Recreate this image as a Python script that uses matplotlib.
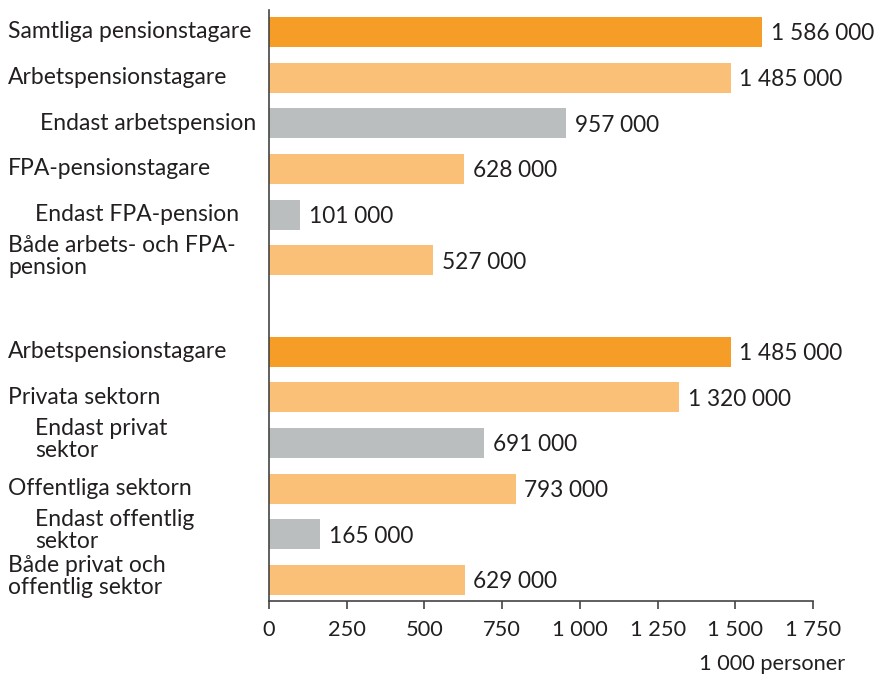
import matplotlib
matplotlib.use("Agg")
import matplotlib.pyplot as plt
import matplotlib.transforms as mtransforms

labels = [
    "Samtliga pensionstagare",
    "Arbetspensionstagare",
    "Endast arbetspension",
    "FPA-pensionstagare",
    "Endast FPA-pension",
    "Både arbets- och FPA-\npension",
    "Arbetspensionstagare",
    "Privata sektorn",
    "Endast privat\nsektor",
    "Offentliga sektorn",
    "Endast offentlig\nsektor",
    "Både privat och\noffentlig sektor",
]
values = [1586, 1485, 957, 628, 101, 527, 1485, 1320, 691, 793, 165, 629]
kinds = ["total", "sub", "only", "sub", "only", "sub",
         "total", "sub", "only", "sub", "only", "sub"]
slots = [0, 1, 2, 3, 4, 5, 7, 8, 9, 10, 11, 12]
ticks = [0, 250, 500, 750, 1000, 1250, 1500, 1750]

colors = {"total": "#F69D27", "sub": "#FBC078", "only": "#BBBEBE"}
indent = {"total": 8, "sub": 8, "only": 35}
txt = "#231F20"

plt.rcParams["font.family"] = ["Lato", "DejaVu Sans"]

fig = plt.figure(figsize=(8.75, 6.75), dpi=100)
ax = fig.add_axes([269 / 875, 1 - 601 / 675, 544 / 875, 591 / 675])

ax.barh(slots, values, height=0.66, color=[colors[k] for k in kinds])
ax.set_xlim(0, 1750)
ax.set_ylim(12.46, -0.48)

for s, v in zip(slots, values):
    ax.text(v + 28, s + 0.04, f"{v * 1000:,}".replace(",", " "), va="center",
            ha="left", fontsize=16.3, color=txt)

trans = mtransforms.blended_transform_factory(fig.transFigure, ax.transData)
for s, lab, k in zip(slots, labels, kinds):
    x = indent[k]
    if lab == "Endast arbetspension":
        x = 40
    dy = -0.08 if "\n" in lab else 0.0
    ax.text(x / 875, s + dy, lab, transform=trans, va="center", ha="left",
            fontsize=16.5, color=txt, linespacing=1.05)

for side in ["top", "right"]:
    ax.spines[side].set_visible(False)
for side in ["left", "bottom"]:
    ax.spines[side].set_color("#444444")
    ax.spines[side].set_linewidth(1.2)
ax.set_yticks([])
ax.set_xticks(ticks)
ax.set_xticklabels([f"{t:,}".replace(",", " ") for t in ticks])
ax.tick_params(axis="x", length=6, width=1.2, color="#444444", pad=8,
               labelsize=15.7, labelcolor=txt)

fig.text(845 / 875, 1 - 664 / 675, "1 000 personer", ha="right", va="center",
         fontsize=15.7, color=txt)

fig.savefig("out.png", dpi=100)
